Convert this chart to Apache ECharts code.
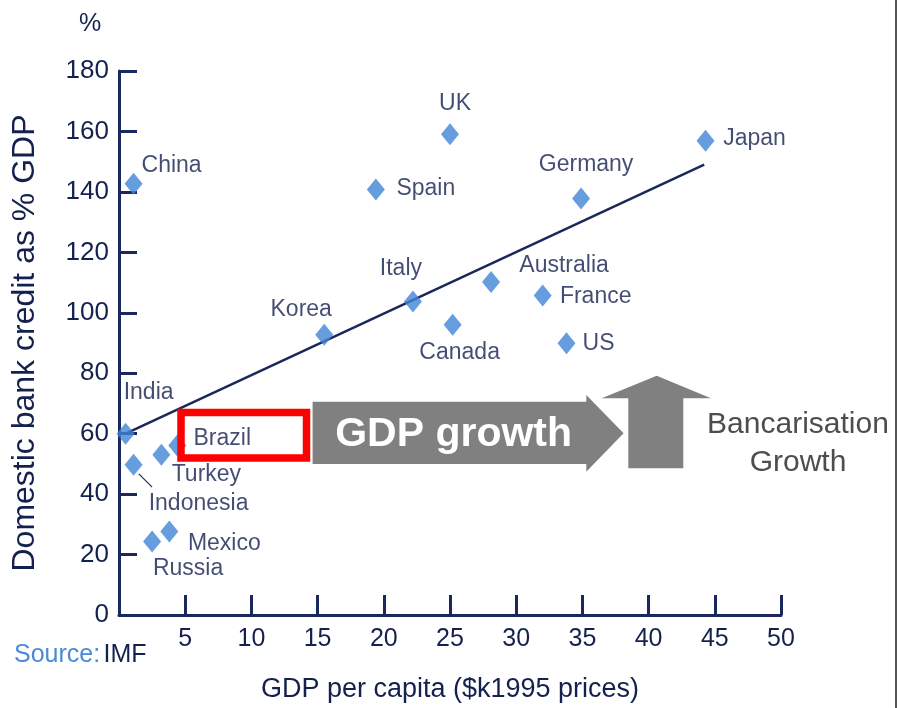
<!DOCTYPE html>
<html>
<head>
<meta charset="utf-8">
<style>
  html, body { margin: 0; padding: 0; background: #ffffff; }
  #chart { width: 897px; height: 708px; }
</style>
<script src="https://cdn.jsdelivr.net/npm/echarts@6/dist/echarts.min.js"></script>
</head>
<body>
<div id="chart"></div>
<script>
// Domestic bank credit (% of GDP) against GDP per capita ($k, 1995 prices)
const countries = ['China', 'India', 'Indonesia', 'Turkey', 'Brazil', 'Russia', 'Mexico',
  'Korea', 'Italy', 'UK', 'Spain', 'Canada', 'Australia', 'France', 'US', 'Germany', 'Japan'];
const gdpPerCapita = [1.1, 0.5, 1.1, 3.2, 4.4, 2.5, 3.8,
  15.5, 22.2, 25.0, 19.4, 25.2, 28.1, 32.0, 33.8, 34.9, 44.3];
const bankCredit = [142.7, 60.0, 49.7, 53.0, 56.1, 24.3, 27.6,
  92.7, 103.7, 159.1, 140.8, 96.0, 110.2, 105.7, 89.9, 137.8, 156.9];

// Fitted trend line end points
const trendGdp = [0.5, 44.2];
const trendCredit = [60, 149];

// Leader line from Indonesia to its label
const leaderGdp = [1.5, 2.5];
const leaderCredit = [46.7, 42.3];

// Axis ticks
const xTicks = [0, 5, 10, 15, 20, 25, 30, 35, 40, 45, 50];
const yTicks = [0, 20, 40, 60, 80, 100, 120, 140, 160, 180];

// Label placement: offset of the label centre from the marker centre (px)
const labelOffset = {
  China: [38, -18], India: [23, -41], Indonesia: [65, 39], Turkey: [45, 20],
  Brazil: [45, -7], Russia: [36, 27], Mexico: [55, 12], Korea: [-23, -25],
  Italy: [-12, -33], UK: [5, -31], Spain: [50, -1], Canada: [7, 28],
  Australia: [73, -16], France: [53, 1], US: [32, 0], Germany: [5, -34], Japan: [49, -2]
};

const NAVY = '#1b285c';
const TEXT = '#14214f';
const FONT = '"Liberation Sans", Arial, Helvetica, sans-serif';

const points = countries.map((name, i) => ({
  name: name,
  value: [gdpPerCapita[i], bankCredit[i]],
  label: {
    show: true,
    position: 'inside',
    offset: labelOffset[name],
    formatter: name,
    color: TEXT,
    fontSize: 23,
    fontFamily: FONT,
    align: 'center',
    verticalAlign: 'middle'
  }
}));

const chart = echarts.init(document.getElementById('chart'), null, { renderer: 'canvas' });

chart.setOption({
  backgroundColor: '#ffffff',
  animation: false,
  grid: { left: 119, right: 116, top: 71, bottom: 92 },
  xAxis: {
    type: 'value',
    min: xTicks[0],
    max: xTicks[xTicks.length - 1],
    interval: 5,
    splitLine: { show: false },
    axisLine: { show: true, lineStyle: { color: NAVY, width: 3 } },
    axisTick: { show: true, inside: true, length: 20, lineStyle: { color: NAVY, width: 3 } },
    axisLabel: {
      color: TEXT, fontSize: 25, fontFamily: FONT, margin: 12,
      formatter: v => (v === 0 ? '' : String(v))
    },
    name: 'GDP per capita ($k1995 prices)',
    nameLocation: 'middle',
    nameGap: 61,
    nameTextStyle: { color: TEXT, fontSize: 27, fontFamily: FONT }
  },
  yAxis: {
    type: 'value',
    min: yTicks[0],
    max: yTicks[yTicks.length - 1],
    interval: 20,
    splitLine: { show: false },
    axisLine: { show: true, lineStyle: { color: NAVY, width: 3 } },
    axisTick: { show: true, inside: true, length: 18, lineStyle: { color: NAVY, width: 3 } },
    axisLabel: { color: TEXT, fontSize: 26, fontFamily: FONT, margin: 10 },
    name: 'Domestic bank credit as % GDP',
    nameLocation: 'middle',
    nameGap: 78,
    nameRotate: 90,
    nameTextStyle: { color: TEXT, fontSize: 32, fontFamily: FONT }
  },
  series: [
    {
      type: 'line',
      data: trendGdp.map((x, i) => [x, trendCredit[i]]),
      symbol: 'none',
      lineStyle: { color: NAVY, width: 2.5 },
      z: 1,
      silent: true
    },
    {
      type: 'line',
      data: leaderGdp.map((x, i) => [x, leaderCredit[i]]),
      symbol: 'none',
      lineStyle: { color: NAVY, width: 1.2 },
      z: 1,
      silent: true
    },
    {
      type: 'scatter',
      data: points,
      symbol: 'diamond',
      symbolSize: [18, 22],
      itemStyle: { color: '#3f84d6' },
      z: 3
    }
  ],
  graphic: [
    // "%" unit above the value axis
    {
      type: 'text', left: 79, top: 12, z: 10,
      style: { text: '%', fill: TEXT, font: '25px ' + FONT }
    },
    // Source line
    {
      type: 'text', left: 14, top: 643, z: 10,
      style: {
        text: '{s|Source:} {i|IMF}',
        rich: {
          s: { fill: '#4a8ad8', font: '25px ' + FONT },
          i: { fill: TEXT, font: '25px ' + FONT }
        }
      }
    },
    // Highlight box round the Brazil label
    {
      type: 'rect', z: 50,
      shape: { x: 181, y: 412.5, width: 125.5, height: 45.5 },
      style: { fill: 'none', stroke: '#ff0000', lineWidth: 7.5 }
    },
    // Right-pointing "GDP growth" arrow
    {
      type: 'polygon', z: 20,
      shape: {
        points: [[312.6, 401.7], [586.3, 401.7], [586.3, 395], [623.6, 433.3],
                 [586.3, 471.7], [586.3, 464], [312.6, 464]]
      },
      style: { fill: '#808080' }
    },
    {
      type: 'text', z: 21, x: 453.6, y: 435,
      style: {
        text: 'GDP growth', fill: '#ffffff', font: 'bold 41px ' + FONT,
        align: 'center', verticalAlign: 'middle'
      }
    },
    // Upward "Bancarisation" arrow
    {
      type: 'polygon', z: 20,
      shape: {
        points: [[628.3, 468.3], [628.3, 398.3], [601.7, 398.3], [656.7, 375.7],
                 [711, 398.3], [683.3, 398.3], [683.3, 468.3]]
      },
      style: { fill: '#808080' }
    },
    {
      type: 'text', z: 21, x: 798, y: 444,
      style: {
        text: 'Bancarisation\nGrowth', fill: '#4d4d4d', font: '30px ' + FONT,
        align: 'center', verticalAlign: 'middle', lineHeight: 38
      }
    },
    // Frame edge on the right
    {
      type: 'line', z: 30,
      shape: { x1: 896, y1: 0, x2: 896, y2: 708 },
      style: { stroke: '#555555', lineWidth: 2 }
    }
  ]
});
</script>
</body>
</html>
